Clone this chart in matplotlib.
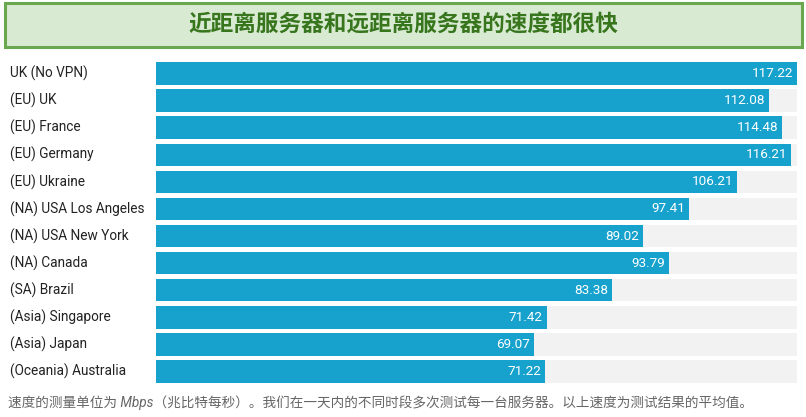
import matplotlib.pyplot as plt
from matplotlib.patches import Rectangle

plt.rcParams['font.family'] = ['Roboto', 'Noto Sans CJK SC', 'DejaVu Sans']

title = "近距离服务器和远距离服务器的速度都很快"
footnote = "速度的测量单位为 Mbps（兆比特每秒）。我们在一天内的不同时段多次测试每一台服务器。以上速度为测试结果的平均值。"
servers = ["UK (No VPN)", "(EU) UK", "(EU) France", "(EU) Germany", "(EU) Ukraine",
           "(NA) USA Los Angeles", "(NA) USA New York", "(NA) Canada", "(SA) Brazil",
           "(Asia) Singapore", "(Asia) Japan", "(Oceania) Australia"]
speeds = [117.22, 112.08, 114.48, 116.21, 106.21, 97.41, 89.02, 93.79, 83.38,
          71.42, 69.07, 71.22]

W, H = 806, 417
fig = plt.figure(figsize=(W / 100, H / 100), dpi=100)

# title box
fig.patches.append(Rectangle((5 / W, 1 - 47 / H), 797 / W, 44 / H, transform=fig.transFigure,
                             facecolor='#d9ead3', edgecolor='#6aa84f', linewidth=2.2))
fig.text(0.5, 1 - 25 / H, title, ha='center', va='center', fontsize=16.3,
         fontweight='bold', color='#38761d', family=['Noto Sans CJK SC', 'DejaVu Sans'])

# bar area
top, bottom = 60, 385
ax = fig.add_axes([156 / W, 1 - bottom / H, (797 - 156) / W, (bottom - top) / H])
vmax = max(speeds)
n = len(servers)
ypos = list(range(n))
ax.barh(ypos, [vmax] * n, height=0.83, color='#f2f2f2')
ax.barh(ypos, speeds, height=0.83, color='#17a2cd')
for y, v in zip(ypos, speeds):
    ax.text(v - vmax * 0.006, y, f"{v:.2f}", ha='right', va='center', color='white', fontsize=9.7)
ax.set_xlim(0, vmax)
ax.set_ylim(n - 0.5, -0.5)
ax.axis('off')

for y, name in zip(ypos, servers):
    ax.text(-146 / (797 - 156) * vmax, y, name, ha='left', va='center', fontsize=9.8,
            color='#222222')

fig.text(8 / W, 1 - 403 / H, footnote, ha='left', va='center', fontsize=9.8,
         style='italic', color='#666666', family=['Roboto', 'Noto Sans CJK SC', 'DejaVu Sans'])

fig.savefig('out.png', dpi=100)
